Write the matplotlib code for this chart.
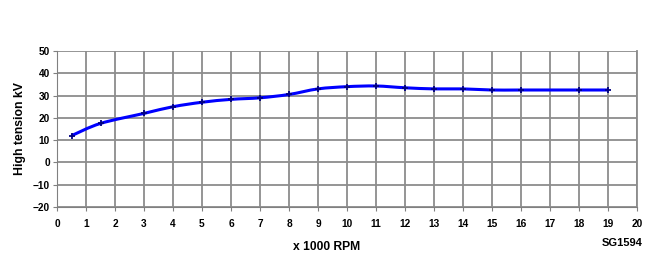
import matplotlib
matplotlib.use('Agg')

import matplotlib.pyplot as plt
from matplotlib.path import Path
import matplotlib.patches as mpatches
import numpy as np

plt.rcParams.update({
    'font.family': ['Liberation Sans', 'DejaVu Sans'],
    'font.weight': 'bold',
})

# data
rpm = [0.5, 1.5, 3, 4, 5, 6, 7, 8, 9, 10, 11, 12, 13, 14, 15, 16, 18, 19]
kv = [12, 17.5, 22, 25, 27, 28.3, 29, 30.5, 33, 34, 34.3, 33.5, 33, 33, 32.5, 32.5, 32.5, 32.5]
x_ticks = list(range(0, 21))
y_ticks = list(range(-20, 51, 10))

fig = plt.figure(figsize=(6.5, 2.69), dpi=100)
ax = fig.add_axes([57 / 650, 1 - 207 / 269, 580 / 650, 156 / 269])

# smoothed line, excel-style bezier through the points
x = np.array(rpm, dtype=float)
y = np.array(kv, dtype=float)
verts = [(x[0], y[0])]
codes = [Path.MOVETO]
n = len(x)
for i in range(n - 1):
    p0 = (x[i - 1], y[i - 1]) if i > 0 else (x[i], y[i])
    p3 = (x[i + 2], y[i + 2]) if i + 2 < n else (x[i + 1], y[i + 1])
    c1 = (x[i] + (x[i + 1] - p0[0]) / 6, y[i] + (y[i + 1] - p0[1]) / 6)
    c2 = (x[i + 1] - (p3[0] - x[i]) / 6, y[i + 1] - (p3[1] - y[i]) / 6)
    verts += [c1, c2, (x[i + 1], y[i + 1])]
    codes += [Path.CURVE4] * 3
ax.add_patch(mpatches.PathPatch(Path(verts, codes), fill=False,
                                edgecolor='#0000ff', lw=2.2, zorder=3))
ax.plot(rpm, kv, ls='none', marker='+', ms=4, mew=1.3, color='#000080', zorder=4)

ax.set_xlim(0, 20)
ax.set_ylim(-20, 50)
ax.set_xticks(x_ticks)
ax.set_yticks(y_ticks)
ax.tick_params(labelsize=7.3, length=3, width=0.8, color='#808080')
ax.tick_params(axis='x', pad=5.5)
ax.tick_params(axis='y', pad=2)
ax.grid(True, color='#8c8c8c', lw=1.3)
ax.spines['top'].set_visible(False)
ax.spines['right'].set_color('#8c8c8c')
ax.spines['right'].set_linewidth(1.3)
ax.spines['left'].set_color('#808080')
ax.spines['bottom'].set_color('#808080')

ax.set_ylabel('High tension kV', fontsize=8.8, fontweight='bold', labelpad=5)
fig.text(327 / 650, 1 - 247 / 269, 'x 1000 RPM', fontsize=8.7, fontweight='bold',
         ha='center', va='center')
fig.text(643 / 650, 1 - 243 / 269, 'SG1594', fontsize=8, fontweight='bold',
         ha='right', va='center')

fig.savefig('out.png', dpi=100)
